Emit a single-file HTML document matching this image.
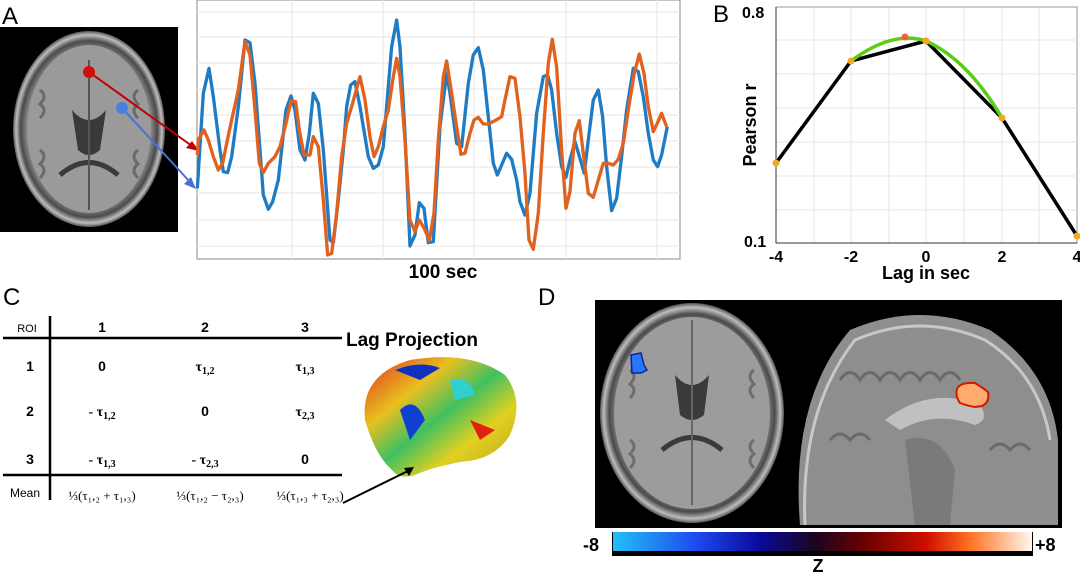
<!DOCTYPE html>
<html><head><meta charset="utf-8"><style>
html,body{margin:0;padding:0;background:#fff;}
svg{display:block;font-family:"Liberation Sans",sans-serif;}
</style></head><body>
<svg width="1080" height="574" viewBox="0 0 1080 574" xmlns="http://www.w3.org/2000/svg">
<defs>
<radialGradient id="brainA" cx="50%" cy="50%" r="50%">
<stop offset="0" stop-color="#a4a4a4"/><stop offset="0.8" stop-color="#949494"/><stop offset="0.9" stop-color="#4a4a4a"/><stop offset="0.96" stop-color="#bdbdbd"/><stop offset="1" stop-color="#555"/>
</radialGradient>
<linearGradient id="cbar" x1="0" x2="1">
<stop offset="0" stop-color="#22c0f5"/><stop offset="0.2" stop-color="#1c4af0"/><stop offset="0.35" stop-color="#0a0a9a"/><stop offset="0.48" stop-color="#1a0520"/><stop offset="0.6" stop-color="#6a0000"/><stop offset="0.75" stop-color="#d01000"/><stop offset="0.85" stop-color="#ff7020"/><stop offset="1" stop-color="#fff8f0"/>
</linearGradient>
<linearGradient id="cortex" x1="0" y1="0" x2="1" y2="1">
<stop offset="0" stop-color="#e03020"/><stop offset="0.3" stop-color="#e8c020"/><stop offset="0.5" stop-color="#40c060"/><stop offset="0.7" stop-color="#e0d020"/><stop offset="1" stop-color="#c0a020"/>
</linearGradient>
</defs>

<!-- Panel A -->
<text x="2" y="24" font-size="24">A</text>
<rect x="0" y="27" width="178" height="205" fill="#000"/>
<ellipse cx="89" cy="129" rx="76" ry="98" fill="url(#brainA)"/>
<ellipse cx="89" cy="129" rx="62" ry="84" fill="#9a9a9a"/>
<g fill="none" stroke="#6a6a6a" stroke-width="3">
<path d="M40 90 q8 6 0 14 q8 6 0 14"/><path d="M138 90 q-8 6 0 14 q-8 6 0 14"/><path d="M40 150 q8 6 0 14 q8 6 0 14"/><path d="M138 150 q-8 6 0 14 q-8 6 0 14"/>
</g>
<path d="M72 110 Q89 130 106 110 L100 150 Q89 160 78 150Z" fill="#3a3a3a"/>
<path d="M60 175 Q89 150 118 175" stroke="#3a3a3a" stroke-width="5" fill="none"/>
<line x1="89" y1="60" x2="89" y2="210" stroke="#555" stroke-width="2"/>
<line x1="89" y1="72" x2="192" y2="146" stroke="#c00000" stroke-width="2"/>
<polygon points="199,151 186,148 192,141" fill="#c00000"/>
<circle cx="89" cy="72" r="6" fill="#d01010"/>
<line x1="122" y1="108" x2="190" y2="182" stroke="#4a70d0" stroke-width="2"/>
<polygon points="196,189 184,184 191,177" fill="#4a70d0"/>
<circle cx="122" cy="108" r="6" fill="#4a80e0"/>

<rect x="197" y="0" width="483" height="259" fill="#fff" stroke="#888" stroke-width="1"/>
<g stroke="#e6e6e6" stroke-width="1">
<line x1="197" y1="12" x2="680" y2="12"/><line x1="197" y1="37" x2="680" y2="37"/><line x1="197" y1="63" x2="680" y2="63"/><line x1="197" y1="89" x2="680" y2="89"/><line x1="197" y1="115" x2="680" y2="115"/><line x1="197" y1="141" x2="680" y2="141"/><line x1="197" y1="167" x2="680" y2="167"/><line x1="197" y1="193" x2="680" y2="193"/><line x1="197" y1="220" x2="680" y2="220"/><line x1="197" y1="246" x2="680" y2="246"/>
<line x1="292" y1="0" x2="292" y2="259"/><line x1="383" y1="0" x2="383" y2="259"/><line x1="474" y1="0" x2="474" y2="259"/><line x1="566" y1="0" x2="566" y2="259"/><line x1="657" y1="0" x2="657" y2="259"/>
</g>
<g transform="translate(180,0) scale(0.3333)" fill="none" stroke-width="10" stroke-linejoin="round">
<polyline stroke="#1f7cc4" points="52,565 70,280 87,205 100,290 120,450 130,515 143,518 155,470 175,320 195,120 210,128 225,250 250,585 265,628 278,605 295,540 318,330 333,288 345,330 360,450 375,480 388,400 400,280 415,310 430,450 450,720 460,728 475,600 490,450 500,320 512,255 525,245 540,320 565,470 580,505 595,495 610,440 635,140 650,60 660,140 675,400 690,738 705,705 718,608 732,625 745,728 760,725 780,380 800,220 810,280 830,430 845,440 865,250 880,165 895,143 910,210 925,350 940,490 952,525 965,495 980,460 995,478 1010,540 1020,605 1035,645 1050,580 1070,340 1090,230 1103,225 1115,270 1130,400 1145,500 1158,532 1170,480 1185,425 1200,475 1213,520 1225,420 1240,300 1255,270 1268,350 1280,500 1295,632 1310,595 1325,470 1340,330 1360,205 1375,215 1390,290 1405,400 1420,480 1433,500 1445,465 1462,380"/>
<polyline stroke="#e0621e" points="52,465 55,420 72,390 85,420 100,470 115,510 128,490 140,430 155,360 175,270 195,125 210,165 225,330 238,490 250,518 265,490 285,470 300,440 318,370 333,303 347,305 358,390 372,465 390,465 400,410 415,440 430,600 443,765 455,760 470,640 485,470 500,370 515,320 540,230 555,300 570,410 582,470 595,440 610,380 625,330 640,230 650,175 660,230 675,420 690,660 705,695 718,660 735,690 748,722 762,640 775,420 790,230 800,183 812,260 830,380 843,463 855,460 870,400 882,360 895,352 910,372 925,372 945,362 965,350 975,300 990,230 1005,235 1020,350 1035,520 1047,720 1060,748 1075,640 1090,400 1105,190 1117,118 1130,200 1145,450 1158,625 1170,575 1185,400 1198,362 1210,460 1225,580 1240,592 1255,540 1270,490 1285,490 1300,495 1315,478 1330,430 1345,330 1363,220 1378,162 1392,220 1405,320 1420,395 1432,370 1445,340 1460,380"/>
</g>
<text x="443" y="278" font-size="19" font-weight="bold" text-anchor="middle">100 sec</text>

<!-- Panel B -->
<text x="713" y="22" font-size="24">B</text>
<rect x="776" y="7" width="301" height="236" fill="#fff" stroke="#999"/>
<g stroke="#e6e6e6">
<line x1="776" y1="40" x2="1077" y2="40"/><line x1="776" y1="74" x2="1077" y2="74"/><line x1="776" y1="108" x2="1077" y2="108"/><line x1="776" y1="142" x2="1077" y2="142"/><line x1="776" y1="176" x2="1077" y2="176"/><line x1="776" y1="210" x2="1077" y2="210"/>
<line x1="814" y1="7" x2="814" y2="243"/><line x1="851" y1="7" x2="851" y2="243"/><line x1="889" y1="7" x2="889" y2="243"/><line x1="926" y1="7" x2="926" y2="243"/><line x1="964" y1="7" x2="964" y2="243"/><line x1="1002" y1="7" x2="1002" y2="243"/><line x1="1039" y1="7" x2="1039" y2="243"/>
</g>
<line x1="776" y1="7" x2="776" y2="243" stroke="#333"/><line x1="776" y1="243" x2="1077" y2="243" stroke="#333"/>
<polyline points="776,163 851,61 926,41 1002,118 1077,236" fill="none" stroke="#000" stroke-width="3.5"/>
<path d="M851,61 Q893,30 926,41 Q968,60 1002,118" fill="none" stroke="#5ccc14" stroke-width="3.5"/>
<g fill="#f2a81a"><circle cx="776" cy="163" r="3.5"/><circle cx="851" cy="61" r="3.5"/><circle cx="926" cy="41" r="3.5"/><circle cx="1002" cy="118" r="3.5"/><circle cx="1077" cy="236" r="3.5"/></g>
<circle cx="905" cy="37" r="3.5" fill="#f06030"/>
<g font-size="16" font-weight="bold">
<text x="742" y="18">0.8</text><text x="744" y="247">0.1</text>
<text x="776" y="262" text-anchor="middle">-4</text><text x="851" y="262" text-anchor="middle">-2</text><text x="926" y="262" text-anchor="middle">0</text><text x="1002" y="262" text-anchor="middle">2</text><text x="1077" y="262" text-anchor="middle">4</text>
<text x="926" y="279" text-anchor="middle" font-size="18">Lag in sec</text>
<text transform="translate(756,125) rotate(-90)" text-anchor="middle" font-size="18">Pearson r</text>
</g>

<!-- Panel C -->
<text x="3" y="305" font-size="24">C</text>
<line x1="50" y1="316" x2="50" y2="500" stroke="#000" stroke-width="2.5"/>
<line x1="3" y1="338" x2="342" y2="338" stroke="#000" stroke-width="2.5"/>
<line x1="3" y1="475" x2="342" y2="475" stroke="#000" stroke-width="2.5"/>
<g font-size="14" text-anchor="middle" font-weight="bold">
<text x="27" y="332" font-size="11" font-weight="normal">ROI</text>
<text x="102" y="332">1</text><text x="205" y="332">2</text><text x="305" y="332">3</text>
<text x="30" y="371">1</text><text x="30" y="416">2</text><text x="30" y="464">3</text>
<text x="102" y="371">0</text><text x="205" y="371" font-family="Liberation Serif">τ<tspan font-size="10" dy="3">1,2</tspan></text><text x="305" y="371" font-family="Liberation Serif">τ<tspan font-size="10" dy="3">1,3</tspan></text>
<text x="102" y="416" font-family="Liberation Serif">- τ<tspan font-size="10" dy="3">1,2</tspan></text><text x="205" y="416">0</text><text x="305" y="416" font-family="Liberation Serif">τ<tspan font-size="10" dy="3">2,3</tspan></text>
<text x="102" y="464" font-family="Liberation Serif">- τ<tspan font-size="10" dy="3">1,3</tspan></text><text x="205" y="464" font-family="Liberation Serif">- τ<tspan font-size="10" dy="3">2,3</tspan></text><text x="305" y="464">0</text>
<text x="25" y="497" font-size="12" font-weight="normal">Mean</text>
<text x="102" y="500" font-family="Liberation Serif" font-size="13" font-weight="normal">⅓(τ₁,₂ + τ₁,₃)</text>
<text x="210" y="500" font-family="Liberation Serif" font-size="13" font-weight="normal">⅓(τ₁,₂ − τ₂,₃)</text>
<text x="310" y="500" font-family="Liberation Serif" font-size="13" font-weight="normal">⅓(τ₁,₃ + τ₂,₃)</text>
</g>
<text x="346" y="346" font-size="19" font-weight="bold">Lag Projection</text>
<path d="M365,420 Q360,375 410,360 Q470,350 505,375 Q525,400 510,435 Q495,460 460,462 Q430,468 415,475 Q400,480 392,470 Q375,455 365,420Z" fill="url(#cortex)"/>
<path d="M395,370 Q420,360 440,368 L420,380Z" fill="#1030c0"/>
<path d="M400,410 Q415,395 425,420 L410,440Z" fill="#1040d0"/>
<path d="M450,380 Q470,375 475,395 L455,400Z" fill="#30d0d0"/>
<path d="M470,420 L495,430 L480,440Z" fill="#e02010"/>
<line x1="343" y1="503" x2="410" y2="470" stroke="#000" stroke-width="2"/>
<polygon points="414,467 404,468 409,476" fill="#000"/>

<!-- Panel D -->
<text x="538" y="305" font-size="24">D</text>
<rect x="595" y="300" width="467" height="228" fill="#000"/>
<ellipse cx="692" cy="413" rx="92" ry="110" fill="url(#brainA)"/>
<ellipse cx="692" cy="413" rx="78" ry="96" fill="#9c9c9c"/>
<g fill="none" stroke="#6e6e6e" stroke-width="3">
<path d="M630 370 q8 6 0 14 q8 6 0 14"/><path d="M754 370 q-8 6 0 14 q-8 6 0 14"/><path d="M630 440 q8 6 0 14 q8 6 0 14"/><path d="M754 440 q-8 6 0 14 q-8 6 0 14"/>
</g>
<path d="M675,375 Q692,395 709,375 L704,415 Q692,425 680,415Z" fill="#3a3a3a"/>
<path d="M662,450 Q692,425 722,450" stroke="#3a3a3a" stroke-width="5" fill="none"/>
<line x1="692" y1="320" x2="692" y2="505" stroke="#666" stroke-width="2"/>
<path d="M631,355 L641,353 L644,365 L647,370 L641,373 L632,373 Z" fill="#2878ff" stroke="#1020a0" stroke-width="1.5"/>
<path d="M800,525 Q790,400 850,330 Q920,300 990,330 Q1050,370 1058,440 L1058,525Z" fill="#8e8e8e"/>
<path d="M805,525 Q800,410 855,340 Q920,312 985,340 Q1040,375 1050,440" fill="none" stroke="#c8c8c8" stroke-width="3"/>
<g fill="none" stroke="#6a6a6a" stroke-width="3">
<path d="M840 380 q10 -15 20 0 q10 -15 20 0 q10 -15 20 0 q10 -15 20 0 q10 -15 20 0 q10 -15 20 0"/>
<path d="M830 440 q10 -12 20 0 q10 -12 20 0"/><path d="M990 450 q10 -12 20 0 q10 -12 20 0"/>
</g>
<path d="M885,420 Q930,385 980,405 Q990,420 975,425 Q935,410 900,430Z" fill="#c0c0c0"/>
<path d="M905,440 Q940,430 955,470 L950,525 L915,525Z" fill="#7a7a7a"/>
<path d="M957,389 Q960,382 975,383 Q983,388 988,392 Q990,402 982,406 L975,407 Q968,406 960,403 Q955,396 957,389Z" fill="#ffab70" stroke="#d01800" stroke-width="2"/>
<rect x="612" y="532" width="421" height="24" fill="#000"/>
<rect x="613" y="532" width="419" height="19" fill="url(#cbar)"/>
<g font-size="18" font-weight="bold">
<text x="583" y="551">-8</text><text x="1035" y="551">+8</text><text x="818" y="572" text-anchor="middle">Z</text>
</g>
</svg>
</body></html>
